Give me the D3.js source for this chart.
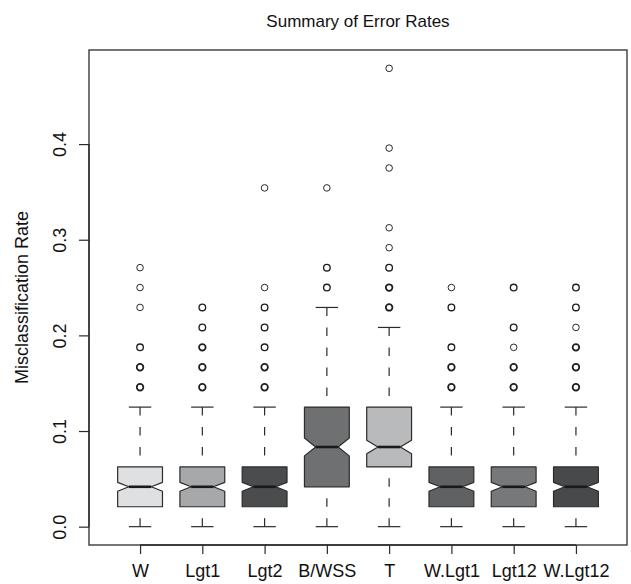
<!DOCTYPE html>
<html>
<head>
<meta charset="utf-8">
<script src="https://cdn.jsdelivr.net/npm/d3@7"></script>
<style>
  html, body { margin: 0; padding: 0; background: #fff; }
  svg text { font-family: "Liberation Sans", Arial, sans-serif; fill: #111; }
</style>
</head>
<body>
<svg id="chart" width="631" height="584"></svg>
<script>
// values (error rates come in steps of 1/48)
const categories = ['W', 'Lgt1', 'Lgt2', 'B/WSS', 'T', 'W.Lgt1', 'Lgt12', 'W.Lgt12'];
const whiskerLow = [0, 0, 0, 0, 0, 0, 0, 0];
const q1 = [0.0208, 0.0208, 0.0208, 0.0417, 0.0625, 0.0208, 0.0208, 0.0208];
const medians = [0.0417, 0.0417, 0.0417, 0.0833, 0.0833, 0.0417, 0.0417, 0.0417];
const q3 = [0.0625, 0.0625, 0.0625, 0.125, 0.125, 0.0625, 0.0625, 0.0625];
const whiskerHigh = [0.125, 0.125, 0.125, 0.2292, 0.2083, 0.125, 0.125, 0.125];
const sampleSize = 200;
// [value, how many points overlap there]
const outliers = [
    [[0.2708, 1], [0.25, 1], [0.2292, 1], [0.1875, 2], [0.1667, 3], [0.1458, 3]],
    [[0.2292, 2], [0.2083, 2], [0.1875, 3], [0.1667, 3], [0.1458, 3]],
    [[0.3542, 1], [0.25, 1], [0.2292, 2], [0.2083, 2], [0.1875, 2], [0.1667, 3], [0.1458, 3]],
    [[0.3542, 1], [0.2708, 2], [0.25, 2]],
    [[0.4792, 1], [0.3958, 1], [0.375, 1], [0.3125, 1], [0.2917, 1], [0.2708, 2], [0.25, 3], [0.2292, 3]],
    [[0.25, 1], [0.2292, 2], [0.1875, 2], [0.1667, 3], [0.1458, 3]],
    [[0.25, 2], [0.2083, 2], [0.1875, 1], [0.1667, 3], [0.1458, 3]],
    [[0.25, 2], [0.2292, 2], [0.2083, 1], [0.1875, 3], [0.1667, 3], [0.1458, 3]],
];
const yTicks = [0, 0.1, 0.2, 0.3, 0.4];
const fills = ['#dfe0e2', '#a7a8aa', '#4b4c4e', '#6f7072', '#b9babc', '#606163', '#77787a', '#48494b'];

const plotLeft = 89, plotRight = 627, plotTop = 50, plotBottom = 545;
const ink = '#2b2b2b';

const svg = d3.select('#chart');

// R style: extend the data range by 4% on each side
const allVals = whiskerLow.concat(outliers.flat().map(function (o) { return o[0]; }));
const lo = d3.min(allVals), hi = d3.max(allVals);
const pad = (hi - lo) * 0.04;
const y = d3.scaleLinear().domain([lo - pad, hi + pad]).range([plotBottom, plotTop]);
const x = d3.scaleLinear().domain([0.5 - 0.32, categories.length + 0.5 + 0.32]).range([plotLeft, plotRight]);
const halfW = 0.36;

const groups = svg
    .selectAll('.box')
    .data(categories)
    .enter()
    .append('g')
    .attr('class', 'box');

// whiskers, drawn from the staple towards the box
groups.each(function (d, i) {
    const g = d3.select(this);
    const cx = x(i + 1);
    const hw = x(halfW) - x(0);
    const sw = hw / 2;
    [[whiskerHigh[i], q3[i]], [whiskerLow[i], q1[i]]].forEach(function (w) {
        g.append('line')
            .attr('x1', cx).attr('x2', cx)
            .attr('y1', y(w[0])).attr('y2', y(w[1]))
            .attr('stroke', ink)
            .attr('stroke-width', 1.2)
            .attr('stroke-dasharray', '8.5,11.5');
        g.append('line')
            .attr('x1', cx - sw).attr('x2', cx + sw)
            .attr('y1', y(w[0])).attr('y2', y(w[0]))
            .attr('stroke', ink)
            .attr('stroke-width', 1.2);
    });

    // notched box
    const iqr = q3[i] - q1[i];
    const notch = 1.58 * iqr / Math.sqrt(sampleSize);
    const xs = [-1, 1, 1, 0.5, 1, 1, -1, -1, -0.5, -1];
    const ys = [q1[i], q1[i], medians[i] - notch, medians[i], medians[i] + notch, q3[i], q3[i], medians[i] + notch, medians[i], medians[i] - notch];
    const pts = xs.map(function (k, j) { return [cx + k * hw, y(ys[j])]; });
    g.append('path')
        .attr('d', d3.line()(pts) + 'Z')
        .attr('fill', fills[i])
        .attr('stroke', ink)
        .attr('stroke-width', 1.2)
        .attr('stroke-linejoin', 'round');
    g.append('line')
        .attr('x1', cx - hw * 0.5).attr('x2', cx + hw * 0.5)
        .attr('y1', y(medians[i])).attr('y2', y(medians[i]))
        .attr('stroke', '#1a1a1a')
        .attr('stroke-width', 2.6);

    g.selectAll('circle')
        .data(outliers[i])
        .enter()
        .append('circle')
        .attr('cx', cx)
        .attr('cy', function (o) { return y(o[0]); })
        .attr('r', 3.3)
        .attr('fill', 'none')
        .attr('stroke', '#1e1e1e')
        .attr('stroke-width', function (o) { return 0.95 + 0.4 * (o[1] - 1); });
});

// frame
svg.append('rect')
    .attr('x', plotLeft).attr('y', plotTop)
    .attr('width', plotRight - plotLeft).attr('height', plotBottom - plotTop)
    .attr('fill', 'none')
    .attr('stroke', ink)
    .attr('stroke-width', 1.3);

// axes
const yAxis = d3.axisLeft(y).tickValues(yTicks).tickSize(10).tickPadding(0).tickFormat(d3.format('.1f'));
const gy = svg.append('g').attr('transform', 'translate(' + plotLeft + ',0)').call(yAxis);
gy.select('.domain')
    .attr('d', 'M0,' + y(yTicks[0]) + 'V' + y(yTicks[yTicks.length - 1]))
    .attr('stroke', ink).attr('stroke-width', 1.3);
gy.selectAll('.tick line').attr('stroke', ink).attr('stroke-width', 1.2);
gy.selectAll('.tick text')
    .attr('x', 0).attr('dy', null)
    .attr('transform', 'translate(-23,0) rotate(-90)')
    .attr('text-anchor', 'middle')
    .style('font-size', '18px')
    .style('font-family', '"Liberation Sans", Arial, sans-serif')
    .attr('fill', '#111');

const xAxis = d3.axisBottom(x).tickValues(d3.range(1, categories.length + 1)).tickSize(9).tickPadding(10)
    .tickFormat(function (d) { return categories[d - 1]; });
const gx = svg.append('g').attr('transform', 'translate(0,' + plotBottom + ')').call(xAxis);
gx.select('.domain')
    .attr('d', 'M' + x(1) + ',0H' + x(categories.length))
    .attr('stroke', ink).attr('stroke-width', 1.3);
gx.selectAll('.tick line').attr('stroke', ink).attr('stroke-width', 1.2);
gx.selectAll('.tick text')
    .style('font-size', '18px')
    .style('font-family', '"Liberation Sans", Arial, sans-serif')
    .attr('fill', '#111');

svg.append('text')
    .attr('x', (plotLeft + plotRight) / 2)
    .attr('y', 27)
    .attr('text-anchor', 'middle')
    .style('font-size', '17px')
    .text('Summary of Error Rates');

svg.append('text')
    .attr('transform', 'translate(28,' + (plotTop + plotBottom) / 2 + ') rotate(-90)')
    .attr('text-anchor', 'middle')
    .style('font-size', '18px')
    .text('Misclassification Rate');
</script>
</body>
</html>
